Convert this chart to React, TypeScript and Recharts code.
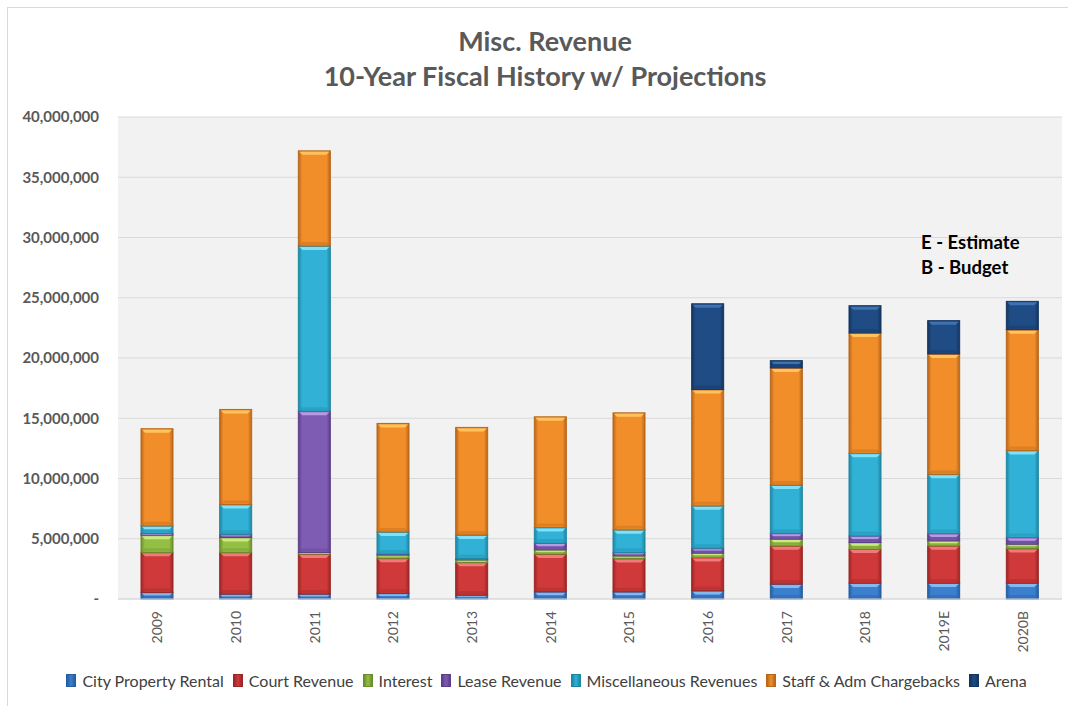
import { BarChart, Bar, XAxis, YAxis, CartesianGrid, Legend } from "recharts";

const years = ["2009", "2010", "2011", "2012", "2013", "2014", "2015", "2016", "2017", "2018", "2019E", "2020B"];

// values in millions
const cityPropertyRental = [0.55, 0.41, 0.41, 0.47, 0.33, 0.6, 0.6, 0.69, 1.24, 1.32, 1.32, 1.32];
const courtRevenue = [3.32, 3.46, 3.32, 2.92, 2.71, 3.13, 2.77, 2.76, 3.17, 2.82, 3.09, 2.88];
const interest = [1.43, 1.23, 0.13, 0.25, 0.21, 0.35, 0.21, 0.36, 0.56, 0.55, 0.42, 0.35];
const leaseRevenue = [0.15, 0.28, 11.73, 0.1, 0.1, 0.56, 0.29, 0.41, 0.49, 0.55, 0.61, 0.56];
const miscRevenues = [0.62, 2.46, 13.71, 1.83, 1.97, 1.29, 1.87, 3.51, 4.0, 6.85, 4.91, 7.22];
const staffChargebacks = [8.06, 7.89, 7.89, 9.0, 8.92, 9.19, 9.71, 9.65, 9.72, 9.99, 9.99, 10.02];
const arena = [0, 0, 0, 0, 0, 0, 0, 7.12, 0.6, 2.26, 2.76, 2.35];

const yTicks = [0, 5e6, 10e6, 15e6, 20e6, 25e6, 30e6, 35e6, 40e6];

const series = [
  { key: "cityPropertyRental", name: "City Property Rental", values: cityPropertyRental, base: "#3b7fcf", light: "#86b8f0", dark: "#275d9e" },
  { key: "courtRevenue", name: "Court Revenue", values: courtRevenue, base: "#d03939", light: "#f07a7a", dark: "#9c2626" },
  { key: "interest", name: "Interest", values: interest, base: "#94bf45", light: "#cde884", dark: "#6b8e2c" },
  { key: "leaseRevenue", name: "Lease Revenue", values: leaseRevenue, base: "#7f5cb3", light: "#b59be0", dark: "#5c3f8a" },
  { key: "miscRevenues", name: "Miscellaneous Revenues", values: miscRevenues, base: "#30b1d5", light: "#7fe0f7", dark: "#1f86a3" },
  { key: "staffChargebacks", name: "Staff & Adm Chargebacks", values: staffChargebacks, base: "#f28e2a", light: "#ffc35e", dark: "#b8661a" },
  { key: "arena", name: "Arena", values: arena, base: "#1f4c85", light: "#3f72b3", dark: "#14355f" },
];

const data = years.map((year, i) => {
  const row: Record<string, string | number> = { year };
  series.forEach((s) => {
    row[s.key] = s.values[i] * 1e6;
  });
  return row;
});

const font = "Lato, 'Open Sans', sans-serif";

function BevelBar(props: any) {
  const { x, y, width, height, s } = props;
  if (!height || height <= 0) return null;
  const b = Math.min(3, height / 3);
  return (
    <g>
      <rect x={x} y={y} width={width} height={height} fill={`url(#grad-${s.key})`} stroke={s.dark} strokeWidth={1} />
      <polygon
        points={`${x + 1},${y + 1} ${x + width - 1},${y + 1} ${x + width - 1 - b},${y + 1 + b} ${x + 1 + b},${y + 1 + b}`}
        fill={s.light}
      />
      <polygon
        points={`${x + 1},${y + height - 1} ${x + width - 1},${y + height - 1} ${x + width - 1 - b},${y + height - 1 - b} ${x + 1 + b},${y + height - 1 - b}`}
        fill={s.dark}
        opacity={0.35}
      />
    </g>
  );
}

function YearTick(props: any) {
  const { x, y, payload } = props;
  return (
    <text
      x={x}
      y={y}
      transform={`rotate(-90 ${x} ${y})`}
      textAnchor="end"
      dx={-4}
      dy={5}
      fill="#595959"
      fontSize={14}
      fontFamily={font}
    >
      {payload.value}
    </text>
  );
}

function LegendContent() {
  return (
    <div style={{ display: "flex", justifyContent: "center", alignItems: "center", fontFamily: font, fontSize: 16, color: "#404040", paddingLeft: 30 }}>
      {series.map((s) => (
        <div key={s.key} style={{ display: "flex", alignItems: "center", marginRight: 9 }}>
          <span
            style={{
              display: "inline-block",
              width: 8,
              height: 11,
              background: `linear-gradient(90deg, ${s.dark}, ${s.base}, ${s.dark})`,
              border: `1px solid ${s.dark}`,
              marginRight: 6,
            }}
          />
          <span>{s.name}</span>
        </div>
      ))}
    </div>
  );
}

export default function App() {
  return (
    <div style={{ position: "absolute", left: 0, top: 0, width: 1068, height: 706, background: "#ffffff", fontFamily: font, overflow: "hidden" }}>
      <div style={{ position: "absolute", left: 7, top: 7, width: 1070, height: 710, borderLeft: "1px solid #d9d9d9", borderTop: "1px solid #d9d9d9" }} />
      <div
        style={{
          position: "absolute",
          left: 0,
          width: 1090,
          top: 23,
          textAlign: "center",
          fontWeight: 700,
          fontSize: 27,
          lineHeight: "35px",
          color: "#595959",
        }}
      >
        <div>Misc. Revenue</div>
        <div>10-Year Fiscal History w/ Projections</div>
      </div>
      <BarChart
        width={1068}
        height={706}
        data={data}
        margin={{ top: 117, right: 6, left: 10, bottom: 28 }}
        barSize={32}
        style={{ position: "absolute", left: 0, top: 0 }}
      >
        <defs>
          {series.map((s) => (
            <linearGradient key={s.key} id={`grad-${s.key}`} x1="0" y1="0" x2="1" y2="0">
              <stop offset="0%" stopColor={s.dark} />
              <stop offset="12%" stopColor={s.base} />
              <stop offset="88%" stopColor={s.base} />
              <stop offset="100%" stopColor={s.dark} />
            </linearGradient>
          ))}
        </defs>
        <CartesianGrid vertical={false} stroke="#d9d9d9" fill="#f2f2f2" />
        <XAxis
          dataKey="year"
          axisLine={{ stroke: "#d9d9d9" }}
          tickLine={false}
          tick={<YearTick />}
          height={60}
          interval={0}
        />
        <YAxis
          width={108}
          domain={[0, 40e6]}
          ticks={yTicks}
          axisLine={false}
          tickLine={false}
          tickMargin={13}
          tick={{ fill: "#595959", fontSize: 15, fontWeight: 700, fontFamily: font }}
          tickFormatter={(v: number) => (v === 0 ? "-" : v.toLocaleString("en-US"))}
        />
        <Legend verticalAlign="bottom" content={<LegendContent />} wrapperStyle={{ bottom: 16 }} />
        {series.map((s) => (
          <Bar
            key={s.key}
            dataKey={s.key}
            name={s.name}
            stackId="a"
            fill={s.base}
            isAnimationActive={false}
            shape={(p: any) => <BevelBar {...p} s={s} />}
          />
        ))}
      </BarChart>
      <div style={{ position: "absolute", left: 921, top: 230, fontWeight: 700, fontSize: 18.5, lineHeight: "25px", color: "#000", zIndex: 2 }}>
        <div>E - Estimate</div>
        <div>B - Budget</div>
      </div>
    </div>
  );
}
